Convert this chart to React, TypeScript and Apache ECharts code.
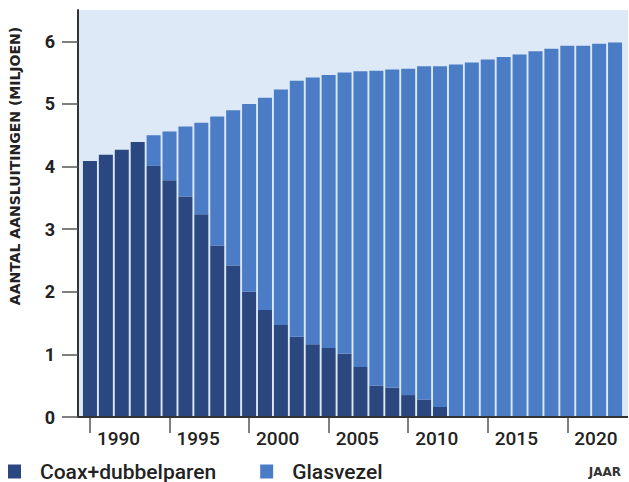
import React, { useEffect, useRef } from "react";
import * as echarts from "echarts";

const years = [
  "1990", "1991", "1992", "1993", "1994", "1995", "1996", "1997", "1998", "1999",
  "2000", "2001", "2002", "2003", "2004", "2005", "2006", "2007", "2008", "2009",
  "2010", "2011", "2012", "2013", "2014", "2015", "2016", "2017", "2018", "2019",
  "2020", "2021", "2022", "2023",
];
const coax = [
  4.09, 4.19, 4.27, 4.39, 4.01, 3.78, 3.52, 3.24, 2.74, 2.42,
  2.0, 1.71, 1.47, 1.28, 1.16, 1.1, 1.01, 0.8, 0.5, 0.47,
  0.35, 0.28, 0.16, 0, 0, 0, 0, 0, 0, 0,
  0, 0, 0, 0,
];
const glasvezel = [
  0, 0, 0, 0, 0.49, 0.78, 1.12, 1.46, 2.06, 2.48,
  3.0, 3.39, 3.76, 4.09, 4.26, 4.36, 4.49, 4.72, 5.03, 5.08,
  5.21, 5.32, 5.44, 5.63, 5.66, 5.71, 5.75, 5.79, 5.84, 5.88,
  5.93, 5.93, 5.96, 5.98,
];
const yTicks = [0, 1, 2, 3, 4, 5, 6];
const seriesNames = ["Coax+dubbelparen", "Glasvezel"];
const yTitle = "AANTAL AANSLUITINGEN (MILJOEN)";
const xTitle = "JAAR";

const DARK = "#2b4780";
const LIGHT = "#4b7cc6";
const BG = "#dde9f6";
const FONT = "Roboto, 'Noto Sans', sans-serif";
const WIDE = "'DejaVu Sans', sans-serif";

export default function App() {
  const ref = useRef<HTMLDivElement>(null);
  useEffect(() => {
    if (!ref.current) return;
    const chart = echarts.init(ref.current, undefined, { renderer: "svg" });
    chart.setOption({
      animation: false,
      backgroundColor: "#ffffff",
      textStyle: { fontFamily: FONT },
      grid: {
        left: 82,
        right: 6,
        top: 10,
        bottom: 65,
        show: false,
      },
      graphic: [
        {
          type: "rect",
          z: -10,
          silent: true,
          shape: { x: 78, y: 10, width: 550, height: 407 },
          style: { fill: BG },
        },
        {
          type: "line",
          z: 10,
          silent: true,
          shape: { x1: 78, y1: 417, x2: 628, y2: 417 },
          style: { stroke: "#333", lineWidth: 2 },
        },
        {
          type: "text",
          silent: true,
          x: 15,
          y: 166,
          rotation: Math.PI / 2,
          style: {
            text: yTitle,
            fontFamily: WIDE,
            fontSize: 14,
            fontWeight: "bold",
            fill: "#222",
            align: "center",
            verticalAlign: "middle",
          },
        },
        {
          type: "text",
          silent: true,
          x: 621,
          y: 472,
          style: {
            text: xTitle,
            fontFamily: WIDE,
            fontSize: 12,
            fontWeight: "bold",
            fill: "#333",
            align: "right",
            verticalAlign: "middle",
          },
        },
      ],
      legend: {
        left: 8,
        top: 461,
        padding: 0,
        itemWidth: 13,
        itemHeight: 14,
        itemGap: 44,
        icon: "rect",
        textStyle: {
          fontFamily: FONT,
          fontSize: 21,
          fontWeight: 500,
          color: "#222",
          padding: [0, 0, 0, 14],
        },
        data: seriesNames,
      },
      xAxis: {
        type: "category",
        data: years,
        axisLine: { show: true, lineStyle: { color: "#333", width: 2 } },
        axisTick: {
          show: true,
          alignWithLabel: true,
          interval: (i: number) => i % 5 === 0,
          length: 16,
          lineStyle: { color: "#555", width: 1.5 },
        },
        axisLabel: {
          interval: (i: number) => i % 5 === 0,
          align: "left",
          padding: [0, 0, 0, 7],
          margin: 12,
          fontFamily: FONT,
          fontSize: 19,
          fontWeight: 500,
          color: "#222",
        },
        splitLine: { show: false },
      },
      yAxis: {
        type: "value",
        min: 0,
        max: 6.5,
        interval: 1,
        offset: 4,
        axisLine: { show: true, lineStyle: { color: "#333", width: 2 } },
        axisTick: {
          show: true,
          length: 16,
          customValues: yTicks,
          lineStyle: { color: "#555", width: 1.5 },
        },
        axisLabel: {
          customValues: yTicks,
          margin: 23,
          fontFamily: FONT,
          fontSize: 18,
          fontWeight: "bold",
          color: "#222",
        },
        splitLine: { show: false },
      },
      series: [
        {
          name: seriesNames[0],
          type: "bar",
          stack: "total",
          data: coax,
          barCategoryGap: "12%",
          itemStyle: { color: DARK },
        },
        {
          name: seriesNames[1],
          type: "bar",
          stack: "total",
          data: glasvezel,
          barCategoryGap: "12%",
          itemStyle: { color: LIGHT },
        },
      ],
    });
    return () => chart.dispose();
  }, []);
  return (
    <div
      ref={ref}
      style={{ position: "fixed", left: 0, top: 0, width: 629, height: 482 }}
    />
  );
}
